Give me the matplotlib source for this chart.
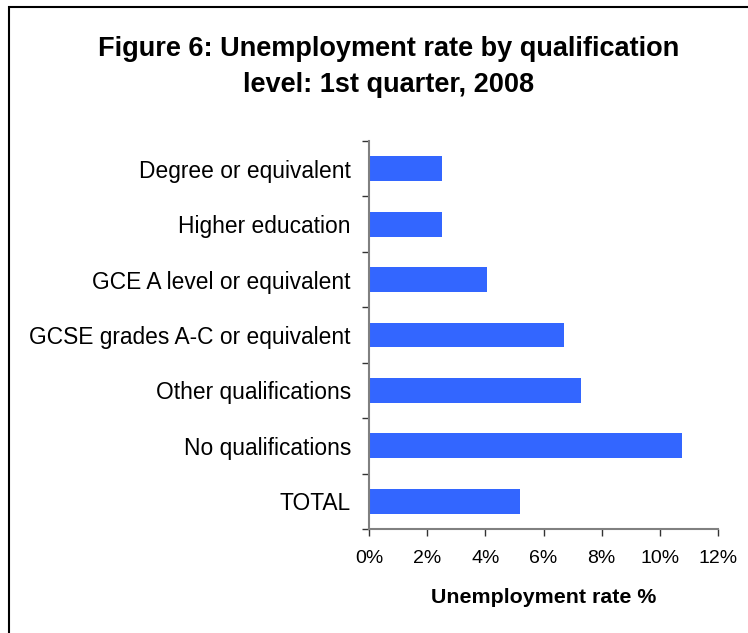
import matplotlib.pyplot as plt
from matplotlib.patches import Rectangle
from matplotlib.ticker import FixedLocator, FuncFormatter

# Figure 6 data, top to bottom as shown
categories = [
    "Degree or equivalent",
    "Higher education",
    "GCE A level or equivalent",
    "GCSE grades A-C or equivalent",
    "Other qualifications",
    "No qualifications",
    "TOTAL",
]
rates = [2.5, 2.5, 4.05, 6.7, 7.3, 10.75, 5.2]
x_ticks = [0, 2, 4, 6, 8, 10, 12]

bar_color = "#3366FF"
axis_color = "#808080"

plt.rcParams["font.family"] = ["Liberation Sans", "DejaVu Sans"]

fig = plt.figure(figsize=(7.48, 6.33), dpi=100)
ax = fig.add_axes([369 / 748, 1 - 529 / 633, (718 - 369) / 748, (529 - 141) / 633])

positions = list(range(len(categories)))
ax.barh(positions, rates, height=0.45, color=bar_color, zorder=2)

ax.set_xlim(0, 12)
ax.set_ylim(len(categories) - 0.5, -0.5)

ax.set_yticks(positions)
ax.set_yticklabels(categories, fontsize=16.4)
ax.yaxis.set_minor_locator(FixedLocator([p - 0.5 for p in range(len(categories) + 1)]))
ax.tick_params(axis="y", which="major", length=0, pad=13)
ax.tick_params(axis="y", which="minor", length=5, width=1, color="#333333")

ax.set_xticks(x_ticks)
ax.xaxis.set_major_formatter(FuncFormatter(lambda v, p: f"{v:.0f}%"))
ax.tick_params(axis="x", length=5, width=1, color="#333333", labelsize=14, pad=10)

for side in ["top", "right"]:
    ax.spines[side].set_visible(False)
for side in ["left", "bottom"]:
    ax.spines[side].set_color(axis_color)
    ax.spines[side].set_linewidth(1.5)

ax.set_xlabel("Unemployment rate %", fontsize=15.4, fontweight="bold", labelpad=15)

fig.text(0.519, 1 - 67 / 633,
         "Figure 6: Unemployment rate by qualification\nlevel: 1st quarter, 2008",
         ha="center", va="center", fontsize=19.5, fontweight="bold", linespacing=1.45)

# border around the chart area (runs off the right and bottom)
border = Rectangle((8.5 / 748, -0.1), 1.2, 1 - 7.5 / 633 + 0.1,
                   transform=fig.transFigure, fill=False, edgecolor="black",
                   linewidth=1.5, clip_on=False)
fig.add_artist(border)

fig.savefig("out.png", dpi=100)
